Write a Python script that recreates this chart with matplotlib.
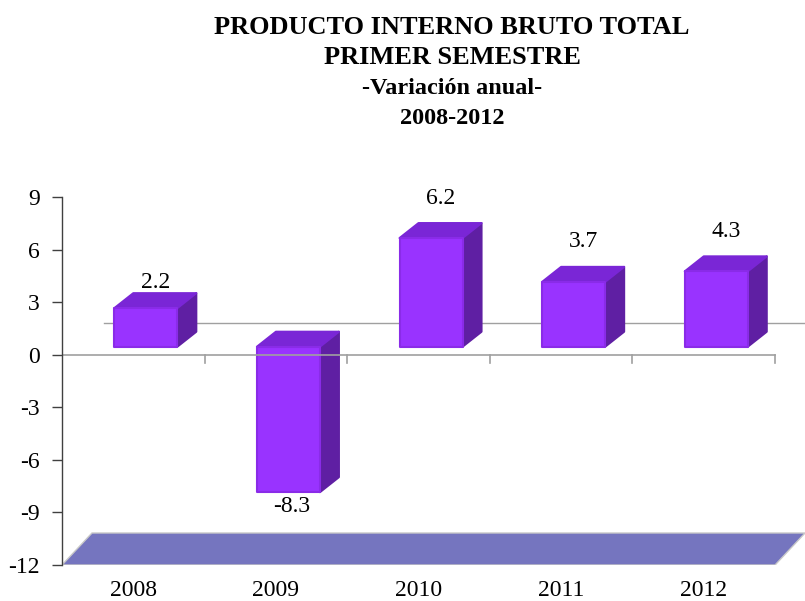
import matplotlib
matplotlib.use("Agg")
import matplotlib.pyplot as plt
from matplotlib.patches import Polygon

# Data
years = ["2008", "2009", "2010", "2011", "2012"]
growth = [2.2, -8.3, 6.2, 3.7, 4.3]
y_ticks = [-12, -9, -6, -3, 0, 3, 6, 9]

title_lines = ["PRODUCTO INTERNO BRUTO TOTAL", "PRIMER SEMESTRE"]
subtitle_lines = ["-Variación anual-", "2008-2012"]

# Style
SERIF = ["Liberation Serif", "DejaVu Serif"]
FRONT = "#9933FF"
FRONT_EDGE = "#8A2BE8"
TOP = "#7A26D6"
SIDE = "#5F1FA3"
FLOOR = "#7575BF"
GRID = "#A0A0A0"
AXIS = "#404040"
LABEL_NUDGE = [-10, 0, 0, 0, 0]   # extra vertical shift of value labels (points)

W, H, DPI = 805, 601, 100
fig = plt.figure(figsize=(W / DPI, H / DPI), dpi=DPI)
ax = fig.add_axes([62 / W, 36 / H, 743 / W, 368 / H])
ax.set_xlim(0, 5.21)
ax.set_ylim(-12, 9)

fig.canvas.draw()
inv = ax.transData.inverted()
o = ax.transData.transform((0, 0))


def px(dx, dy):
    """Convert a pixel offset (x right, y up) to a data offset."""
    p = inv.transform((o[0] + dx, o[1] + dy))
    return p[0], p[1]


# 3-D geometry (pixel offsets)
fdx, fdy = px(30, 32)           # floor / wall depth
bdx, bdy = px(19, 15)           # bar depth
shift_x, base_y = px(12.5, 8)   # bar front face offset from category
half_w, _ = px(31.5, 0)
tick_len = px(0, 8)[1]

# Floor
floor = Polygon([(0, -12), (5, -12), (5 + fdx, -12 + fdy), (fdx, -12 + fdy)],
                closed=True, facecolor=FLOOR, edgecolor="#C8C8C8", lw=1, zorder=1)
ax.add_patch(floor)

# Zero line on the back wall
wall_x0 = px(42, 0)[0]
ax.plot([wall_x0, 5 + fdx], [fdy, fdy], color=GRID, lw=1, zorder=1.5, clip_on=False)

# Bars
for i, v in enumerate(growth):
    cx = i + 0.5 + shift_x
    x0, x1 = cx - half_w, cx + half_w
    b = base_y
    t = b + v
    upper = max(b, t)
    side = Polygon([(x1, b), (x1, t), (x1 + bdx, t + bdy), (x1 + bdx, b + bdy)],
                   closed=True, facecolor=SIDE, edgecolor=SIDE, lw=1.5,
                   joinstyle="round", zorder=3)
    top = Polygon([(x0, upper), (x1, upper), (x1 + bdx, upper + bdy), (x0 + bdx, upper + bdy)],
                  closed=True, facecolor=TOP, edgecolor=TOP, lw=1.5,
                  joinstyle="round", zorder=3)
    ax.add_patch(side)
    ax.add_patch(top)
    ax.bar(cx, v, width=2 * half_w, bottom=b, color=FRONT, edgecolor=FRONT_EDGE,
           lw=1.5, joinstyle="round", zorder=4)

    label = f"{v:.1f}"
    if v >= 0:
        ax.annotate(label, xy=(cx, t + bdy), xytext=(7, 18 + LABEL_NUDGE[i]),
                    textcoords="offset points", ha="center", va="center",
                    fontsize=17, family=SERIF, zorder=6)
    else:
        ax.annotate(label, xy=(cx, t), xytext=(2, -10 + LABEL_NUDGE[i]),
                    textcoords="offset points", ha="center", va="center",
                    fontsize=17, family=SERIF, zorder=6)

# Front zero line with category separators
ax.plot([0, 5], [0, 0], color=GRID, lw=1.2, zorder=5)
for k in range(1, 6):
    ax.plot([k, k], [0, -tick_len], color=GRID, lw=1.2, zorder=5)

# Axes
for s in ["top", "right", "bottom"]:
    ax.spines[s].set_visible(False)
ax.spines["left"].set_color(AXIS)
ax.spines["left"].set_linewidth(1)
ax.spines["left"].set_zorder(6)
ax.set_yticks(y_ticks)
ax.set_yticklabels([str(t) for t in y_ticks], fontsize=17, family=SERIF)
ax.tick_params(axis="y", direction="out", length=7, width=1, color=AXIS, pad=9)
ax.set_xticks([i + 0.5 for i in range(len(years))])
ax.set_xticklabels(years, fontsize=17, family=SERIF)
ax.tick_params(axis="x", length=0, pad=11)
ax.patch.set_visible(False)

# Titles
cx_title = 452 / W
for j, line in enumerate(title_lines):
    fig.text(cx_title, 1 - (27 + 30 * j) / H, line, ha="center", va="center",
             fontsize=19, fontweight="bold", family=SERIF)
for j, line in enumerate(subtitle_lines):
    fig.text(cx_title, 1 - (89 + 29 * j) / H, line, ha="center", va="center",
             fontsize=17.5, fontweight="bold", family=SERIF)

fig.savefig("out.png", dpi=DPI)
